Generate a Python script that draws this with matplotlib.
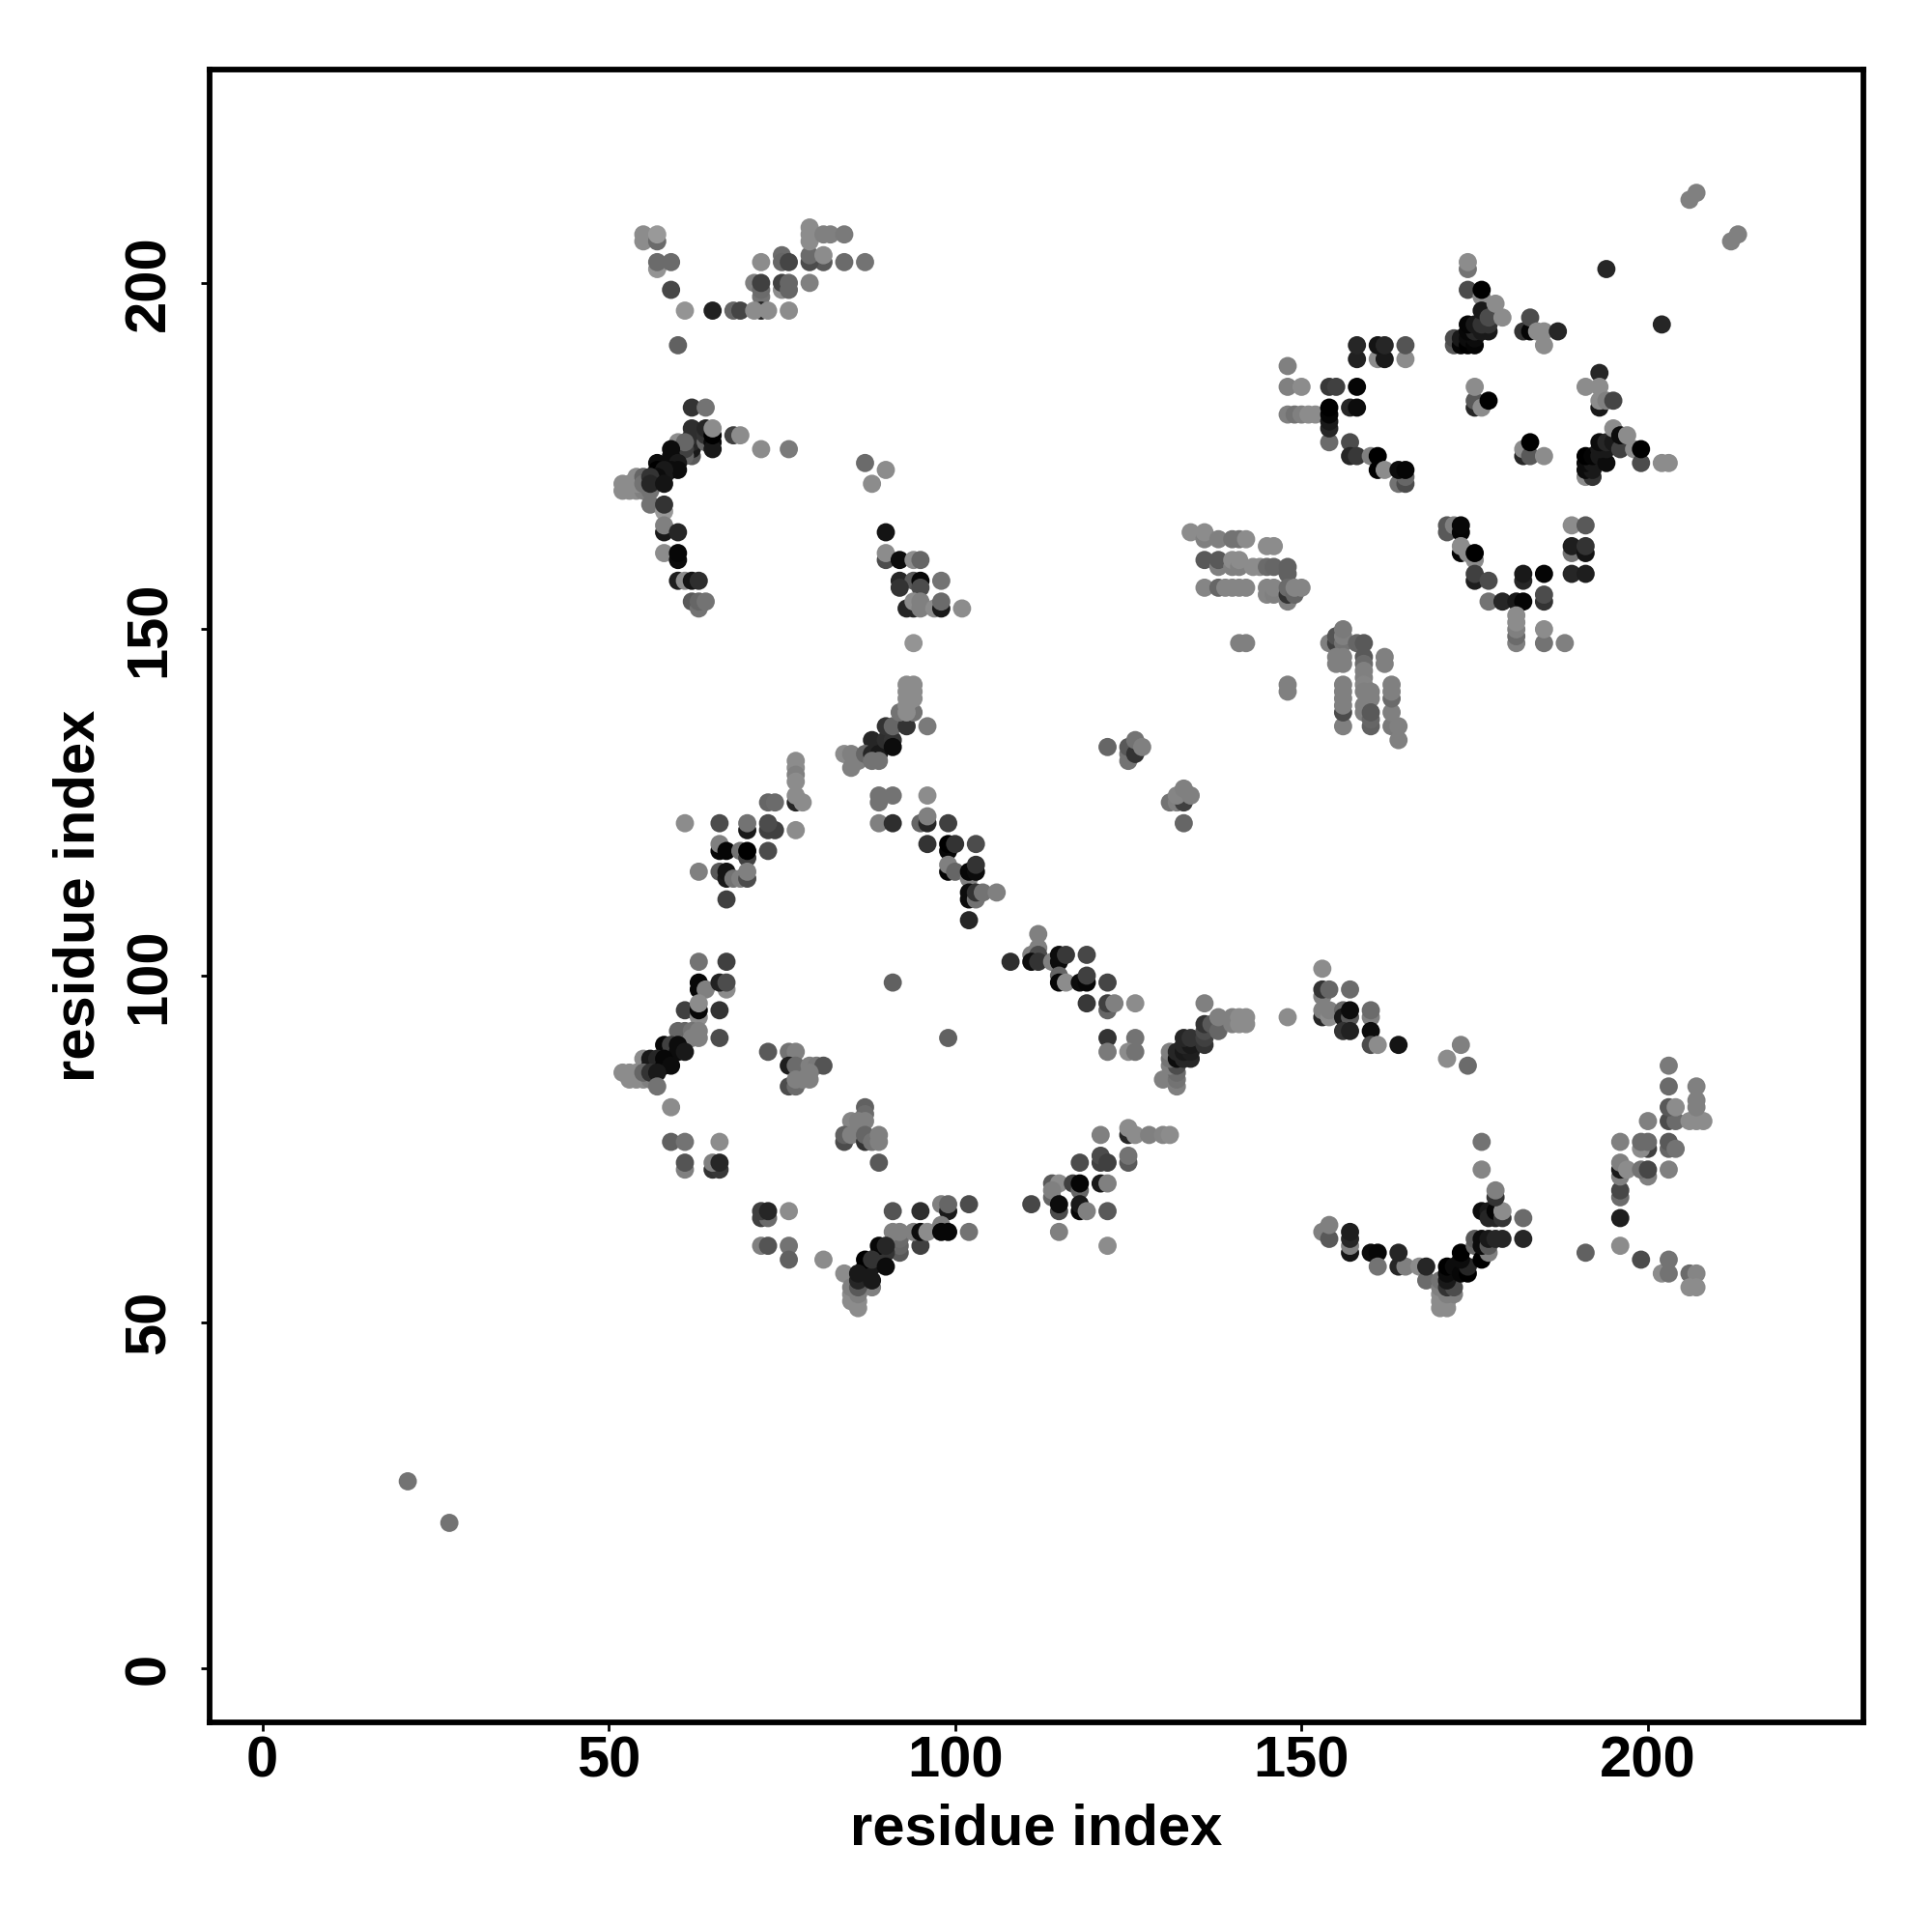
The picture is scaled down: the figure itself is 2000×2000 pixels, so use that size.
import numpy as np
import matplotlib
matplotlib.use("Agg")
import matplotlib.pyplot as plt

# contacts as (residue i, residue j, grey level of the dot)
top_left = [(55,207,.55),(55,206,.55),(57,206,.42),(57,207,.6),(57,202,.58),(57,203,.42),(59,203,.42),(59,199,.28),(61,196,.58),(60,191,.38),
    (65,196,.13),(68,196,.4),(69,196,.27),(72,198,.45),(72,196,.15),(71,196,.55),(73,196,.55),(76,196,.55),
    (71,200,.5),(72,199,.42),(72,200,.25),(75,199,.55),(75,200,.25),(76,199,.4),(76,200,.4),(79,200,.5),
    (72,203,.55),(75,204,.42),(75,203,.4),(76,203,.27),(81,203,.35),(79,203,.3),(79,204,.42),(81,204,.55),(84,203,.42),(87,203,.45),
    (79,208,.55),(79,206,.55),(79,207,.55),(81,207,.5),(82,207,.5),(84,207,.48)]
arc_left = [(62,182,.2),(64,182,.45),(62,175,.35),(62,176,.1),(62,177,.15),(62,178,.18),(62,179,.18),(64,177,.4),(64,178,.2),(64,179,.15),
    (65,177,.05),(65,176,.1),(65,178,.0),(65,179,.55),(68,178,.25),(69,178,.55),(72,176,.55),(76,176,.48),
    (60,177,.55),(61,175,.4),(61,176,.25),(61,177,.4),(59,175,.05),(59,176,.05),(60,174,.1),(59,173,.05),(60,173,.05),
    (57,174,.05),(57,173,.0),(58,172,.1),(58,173,.1),(57,172,.05),(52,170,.55),(53,170,.55),(54,170,.55),(55,170,.5),(56,170,.45),
    (52,171,.55),(53,171,.55),(54,171,.55),(54,172,.55),(55,172,.4),(55,171,.45),(56,172,.2),(56,171,.15),(58,171,.08),
    (56,168,.45),(58,167,.6),(58,168,.2),(58,164,.1),(58,165,.5),(60,164,.15),(58,161,.55),(60,160,.05),(60,161,.03),
    (60,157,.12),(61,157,.55),(62,157,.08),(63,157,.18),(62,154,.35),(63,153,.45),(63,154,.4),(64,154,.45)]
mid_upper = [(87,174,.42),(90,173,.55),(88,171,.55),(90,164,.08),(90,160,.3),(90,161,.55),(92,160,.05),(94,160,.55),(95,160,.4),
    (92,157,.15),(94,157,.35),(95,157,.03),(98,157,.45),(92,156,.2),(95,156,.3),(94,153,.15),(93,153,.15),(94,154,.55),(95,153,.5),(95,154,.5),
    (97,153,.55),(98,153,.1),(98,154,.42),(101,153,.55),(94,148,.58)]
top_right = [(148,188,.5),(148,185,.5),(150,185,.55),(148,181,.5),(149,181,.45),(150,181,.5),(151,181,.55),(152,181,.55),
    (154,177,.42),(154,179,.15),(154,180,.1),(154,181,.02),(154,182,.0),(154,185,.22),(155,185,.25),(158,185,.02),(157,182,.15),(158,182,.05),
    (157,177,.3),(157,175,.15),(158,175,.22),(160,175,.5),(161,173,.0),(161,175,.0),(162,173,.55),(164,171,.45),(165,171,.3),(165,172,.4),(164,173,.05),(165,173,.02),
    (158,189,.13),(158,191,.15),(161,189,.55),(162,189,.1),(161,191,.08),(162,191,.15),(165,189,.55),(165,191,.33),
    (174,202,.45),(174,203,.55),(174,199,.3),(176,198,.55),(176,199,.0),(172,191,.35),(172,192,.3),(173,191,.02),(173,192,.1),
    (174,191,.0),(174,192,.05),(175,191,.02),(175,192,.05),(174,193,.03),(175,193,.15),(174,194,.02),(175,194,.1),(176,193,.1),
    (177,193,.1),(176,194,.2),(177,194,.2),(176,196,.1),(177,195,.3),(178,197,.55),(179,195,.55),
    (182,193,.2),(183,193,.02),(183,195,.3),(184,193,.55),(185,191,.55),(185,193,.55),(187,193,.15),(194,202,.15),(202,194,.15),
    (193,182,.1),(193,187,.15),(191,185,.55),(193,185,.55),(193,183,.55),(194,183,.5),(195,183,.27),
    (175,182,.15),(175,183,.35),(175,185,.55),(176,182,.55),(177,183,.0),
    (182,175,.15),(182,176,.55),(183,175,.35),(183,177,.0),(185,175,.55),
    (191,172,.55),(192,172,.2),(191,173,.05),(192,173,.1),(191,174,.05),(192,174,.1),(191,175,.0),(192,175,.02),(193,175,.1),(194,174,.05),
    (193,176,.1),(194,176,.1),(193,177,.05),(194,177,.15),(195,177,.1),(196,176,.25),(195,179,.55),(196,178,.05),(197,178,.55),
    (198,176,.55),(199,174,.3),(199,176,.0),(202,174,.55),(203,174,.55),(206,212,.5),(207,213,.5),(212,206,.5),(213,207,.5)]
lower_v = [(171,164,.35),(171,165,.35),(172,165,.5),(173,164,.02),(173,165,.03),(173,161,.02),(173,162,.55),(174,161,.55),(175,160,.55),(175,161,.0),
    (175,157,.12),(175,158,.25),(177,157,.3),(177,154,.45),(179,154,.15),(181,154,.1),(182,154,.02),(182,157,.15),(182,158,.1),(185,158,.02),
    (185,154,.2),(185,155,.3),(181,148,.5),(181,149,.42),(181,150,.5),(181,151,.55),(181,152,.55),(185,148,.45),(185,150,.55),(188,148,.5),
    (189,165,.55),(191,165,.35),(189,161,.45),(189,162,.12),(191,161,.08),(191,162,.2),(189,158,.15),(191,158,.12)]
strand_block = [(134,164,.55),(136,163,.5),(136,164,.55),(138,163,.5),(140,163,.45),(141,163,.45),(142,163,.55),(145,162,.55),(146,162,.55),
    (136,160,.35),(138,159,.5),(138,160,.35),(140,159,.5),(140,160,.55),(141,159,.5),(141,160,.55),(143,159,.55),(144,159,.55),(145,159,.42),(146,159,.4),
    (148,158,.38),(148,159,.38),(136,156,.52),(138,156,.4),(139,156,.52),(140,156,.52),(141,156,.52),(142,156,.52),(145,155,.52),(145,156,.52),(146,155,.5),(146,156,.52),
    (148,154,.5),(148,155,.2),(148,156,.42),(149,155,.4),(149,156,.52),(150,156,.52),(141,148,.5),(142,148,.5),(148,141,.5),(148,142,.5)]
strand_right = [(154,148,.5),(155,148,.25),(155,149,.33),(156,148,.45),(156,149,.5),(156,150,.48),(155,145,.5),(155,146,.5),(156,145,.5),(156,146,.5),
    (158,148,.4),(159,148,.35),(159,146,.35),(159,145,.42),(159,144,.5),(159,143,.5),(159,142,.52),(162,145,.5),(162,146,.5),
    (156,136,.5),(156,138,.3),(156,139,.5),(156,140,.5),(156,141,.5),(156,142,.5),
    (159,138,.5),(159,139,.5),(159,141,.5),(160,141,.5),(160,140,.5),(160,136,.38),(160,137,.4),(160,138,.35),
    (163,136,.48),(163,138,.5),(163,140,.42),(163,141,.5),(163,142,.5),(164,134,.5),(164,136,.5)]
small_knots = [(122,133,.4),(125,131,.45),(125,132,.45),(125,133,.35),(126,132,.2),(126,134,.45),(127,133,.5),
    (131,125,.45),(132,125,.5),(133,125,.25),(132,126,.52),(133,127,.5),(134,126,.5),(133,122,.4)]
mid_left = [(61,122,.55),(66,122,.3),(70,121,.1),(70,122,.45),(73,125,.4),(74,125,.42),(73,121,.25),(74,121,.25),(73,122,.3),(77,121,.55),
    (77,131,.55),(77,130,.55),(77,129,.5),(77,128,.55),(77,125,.15),(77,126,.55),(78,125,.55),
    (66,118,.03),(66,119,.5),(67,118,.02),(69,118,.45),(70,117,.25),(70,118,.0),(73,118,.3),
    (63,115,.5),(66,115,.35),(67,114,.1),(67,115,.08),(68,114,.45),(69,114,.5),(70,114,.3),(70,115,.5),(67,111,.25)]
mid_center = [(84,132,.55),(85,130,.5),(85,132,.5),(86,131,.5),(88,134,.15),(87,132,.4),(88,132,.15),(89,132,.1),(88,131,.45),(89,131,.45),
    (90,134,.18),(91,134,.2),(91,133,.05),(90,136,.2),(91,136,.4),(93,136,.2),(92,138,.45),(94,138,.45),(93,138,.55),
    (93,139,.55),(93,140,.55),(94,140,.55),(93,141,.55),(94,141,.55),(93,142,.55),(94,142,.55),(96,136,.48),
    (89,125,.45),(89,126,.45),(91,126,.45),(96,126,.55),(89,122,.5),(91,122,.18),(95,122,.4),(96,122,.15),(96,123,.5),(99,122,.25),
    (96,119,.2),(99,118,.03),(99,119,.0),(100,119,.2),(103,119,.3),(99,115,.02),(99,116,.5),(100,115,.4),
    (102,114,.5),(102,115,.03),(103,115,.05),(103,116,.2),(102,111,.05),(102,112,.05),(103,111,.45),(103,112,.2),(104,112,.45),(106,112,.5),(102,108,.15)]
lower_left = [(63,102,.45),(67,102,.25),(63,98,.03),(63,99,.03),(64,98,.5),(67,98,.55),(66,99,.13),(67,99,.3),
    (61,95,.25),(63,94,.55),(63,95,.03),(63,96,.55),(66,95,.2),(60,92,.4),(61,92,.4),(62,92,.45),(66,91,.3),(62,91,.5),(63,91,.5),(63,92,.5),
    (58,90,.03),(59,89,.1),(59,90,.25),(60,89,.05),(60,90,.05),(61,89,.1),(55,88,.55),(56,87,.1),(56,88,.1),(57,87,.1),(57,88,.15),(58,87,.03),(58,88,.03),(59,87,.05),
    (52,86,.55),(53,86,.55),(54,86,.55),(53,85,.55),(54,85,.55),(55,85,.55),(56,85,.5),(55,86,.4),(56,86,.2),(57,86,.1),(57,84,.45),(59,81,.55),
    (59,76,.38),(61,76,.45),(66,76,.55),(61,72,.5),(61,73,.33),(65,72,.2),(66,72,.22),(65,73,.5),(66,73,.15),
    (73,89,.35),(76,89,.45),(77,89,.5),(76,87,.12),(77,87,.42),(79,87,.5),(80,87,.48),(81,87,.33),(79,86,.5),(76,84,.3),(77,84,.42),(77,85,.5),(78,85,.5),(79,85,.5),
    (91,99,.38),(99,91,.38),(87,81,.38),(87,80,.42),(85,79,.52),(86,79,.5),(87,79,.5),(84,76,.3),(84,77,.38),(85,77,.5),(87,76,.2),(87,77,.4),(88,76,.45),(89,76,.5),(89,77,.5),(89,73,.35)]
lower_arc = [(72,65,.25),(73,65,.42),(72,66,.25),(73,66,.15),(76,66,.55),(72,61,.5),(73,61,.33),(76,61,.45),(76,59,.38),(81,59,.55),
    (91,66,.33),(95,66,.18),(98,67,.5),(99,66,.1),(99,67,.4),(102,67,.3),(92,60,.35),(92,61,.4),(92,62,.42),(91,63,.5),(92,63,.5),(95,61,.25),(94,63,.5),(95,63,.05),(96,63,.55),
    (98,64,.5),(98,63,.03),(99,63,.03),(102,63,.45),(89,60,.3),(90,60,.2),(89,61,.03),(90,61,.15),(87,58,.15),(88,58,.1),(87,59,.0),(88,59,.2),(90,58,.05),
    (84,57,.55),(85,53,.55),(86,52,.55),(86,53,.55),(85,54,.55),(86,54,.5),(85,55,.5),(88,55,.5),(86,55,.35),(86,56,.15),(86,57,.1),(88,56,.1)]
lower_mid = [(111,103,.5),(112,106,.5),(112,104,.5),(112,103,.3),(108,102,.18),(111,102,.05),(112,102,.2),(114,102,.5),(115,102,.05),(115,103,.05),(116,103,.22),(119,103,.28),
    (115,100,.4),(115,99,.03),(116,99,.55),(118,99,.05),(119,99,.03),(119,100,.25),(122,99,.27),(119,96,.22),(122,95,.4),(122,96,.25),(123,96,.5),(126,96,.55),
    (122,91,.2),(126,91,.45),(122,89,.48),(125,89,.55),(126,89,.45),
    (130,85,.5),(132,84,.5),(132,85,.45),(132,86,.42),(131,87,.5),(132,87,.3),(131,88,.45),(131,89,.5),(132,88,.05),(132,89,.15),
    (133,88,.15),(134,88,.15),(133,89,.1),(134,89,.12),(133,90,.15),(134,90,.1),(133,91,.15),(134,91,.2),(136,90,.2),(136,91,.25),(136,92,.3),(136,93,.2),(137,93,.35),(138,92,.4),
    (136,96,.5),(138,94,.5),(140,93,.5),(140,94,.5),(141,93,.55),(141,94,.55),(142,93,.55),(142,94,.55),(148,94,.55),
    (153,101,.55),(153,97,.5),(153,98,.2),(154,98,.4),(157,98,.42),(153,94,.15),(153,95,.5),(154,94,.55),(154,95,.5),
    (156,95,.4),(156,94,.1),(157,94,.35),(157,95,.05),(156,92,.2),(157,92,.13),(160,94,.5),(160,95,.42),(160,92,.05),(160,90,.3),(161,90,.55),(164,90,.08),
    (171,88,.55),(173,90,.5),(174,87,.42)]
lower_center = [(121,77,.5),(125,77,.15),(125,78,.55),(126,77,.55),(128,77,.5),(130,77,.52),(131,77,.55),
    (118,73,.3),(121,73,.25),(121,74,.3),(122,73,.25),(125,73,.35),(125,74,.45),
    (114,70,.35),(115,70,.55),(117,70,.25),(118,69,.4),(118,70,.02),(121,70,.1),(122,70,.5),
    (111,67,.28),(114,68,.4),(114,69,.5),(115,66,.3),(115,67,.05),(118,66,.03),(118,67,.1),(119,66,.5),(122,66,.35),(115,63,.5),(122,61,.55)]
lower_right = [(153,63,.5),(154,62,.35),(154,64,.5),(157,60,.08),(157,61,.5),(157,62,.15),(157,63,.12),(160,60,.05),(161,60,.03),(161,58,.45),(164,58,.15),(165,58,.5),(164,60,.15),
    (167,58,.55),(168,56,.42),(168,58,.15),(170,52,.55),(171,52,.55),(170,53,.55),(171,53,.55),(170,54,.55),(171,54,.5),(172,54,.5),(170,55,.5),(170,56,.45),
    (171,55,.2),(172,55,.3),(171,56,.1),(171,57,.05),(171,58,.0),(172,58,.05),(173,57,.03),(174,57,.0),(174,58,.15),(173,59,.05),(173,60,.0),
    (175,61,.4),(175,62,.35),(176,59,.0),(177,60,.5),(176,61,.05),(176,62,.05),(177,61,.35),(177,62,.1),(178,62,.15),(179,62,.15),(176,66,.05),(177,66,.1),(177,65,.15),(178,65,.15),(178,66,.02),
    (179,65,.2),(179,66,.55),(182,62,.15),(182,65,.42),(178,68,.2),(178,69,.5),(176,72,.52),(176,76,.45),
    (191,60,.38),(196,61,.55),(199,59,.3),(202,57,.55),(203,57,.45),(203,59,.45),(206,57,.42),(207,57,.52),(206,55,.55),(207,55,.55),
    (196,65,.12),(196,68,.42),(196,69,.28),(196,71,.5),(196,72,.1),(196,73,.5),(197,72,.55),(196,76,.5),
    (200,71,.5),(199,72,.45),(200,72,.28),(200,75,.25),(199,75,.55),(199,76,.42),(200,76,.42),(200,79,.5),
    (203,72,.5),(203,75,.4),(203,76,.35),(204,75,.45),(203,79,.3),(204,79,.42),(203,81,.35),(204,81,.55),(203,84,.42),(203,87,.48),
    (206,79,.55),(207,79,.55),(208,79,.55),(207,81,.5),(207,82,.5),(207,84,.5)]
far_pair = [(21,27,.45),(27,21,.45)]

tick_values = [0, 50, 100, 150, 200]
axis_label = "residue index"

contacts = np.array(top_left + arc_left + mid_upper + top_right + lower_v + strand_block + strand_right + small_knots
                    + mid_left + mid_center + lower_left + lower_arc + lower_mid + lower_center + lower_right + far_pair)

plt.rcParams['font.family'] = ['Liberation Sans', 'DejaVu Sans']
plt.rcParams['font.weight'] = 'bold'

fig = plt.figure(figsize=(10, 10), dpi=200)
ax = fig.add_axes([216.5/2000, 1-1783/2000, (1929-216.5)/2000, (1783-72)/2000])

ax.scatter(contacts[:, 0], contacts[:, 1], s=46, c=contacts[:, 2], cmap='gray', vmin=0, vmax=1, linewidths=0, clip_on=False)

ax.set_xlim(-7.67, 231.1)
ax.set_ylim(-7.8, 230.8)
ax.set_xticks(tick_values)
ax.set_yticks(tick_values)
for s in ax.spines.values():
    s.set_linewidth(2.1)
ax.tick_params(axis='both', length=3.2, width=1.0, labelsize=21.5, pad=1.5)
ax.tick_params(axis='y', labelrotation=90, pad=9)
for t in ax.get_yticklabels():
    t.set_va('center')

ax.set_xlabel(axis_label, fontsize=21.5, fontweight='bold')
ax.set_ylabel(axis_label, fontsize=21.5, fontweight='bold')
ax.xaxis.set_label_coords(0.5, -0.049)
ax.yaxis.set_label_coords(-0.0625, 0.5)

fig.savefig("out.png", dpi=200)
